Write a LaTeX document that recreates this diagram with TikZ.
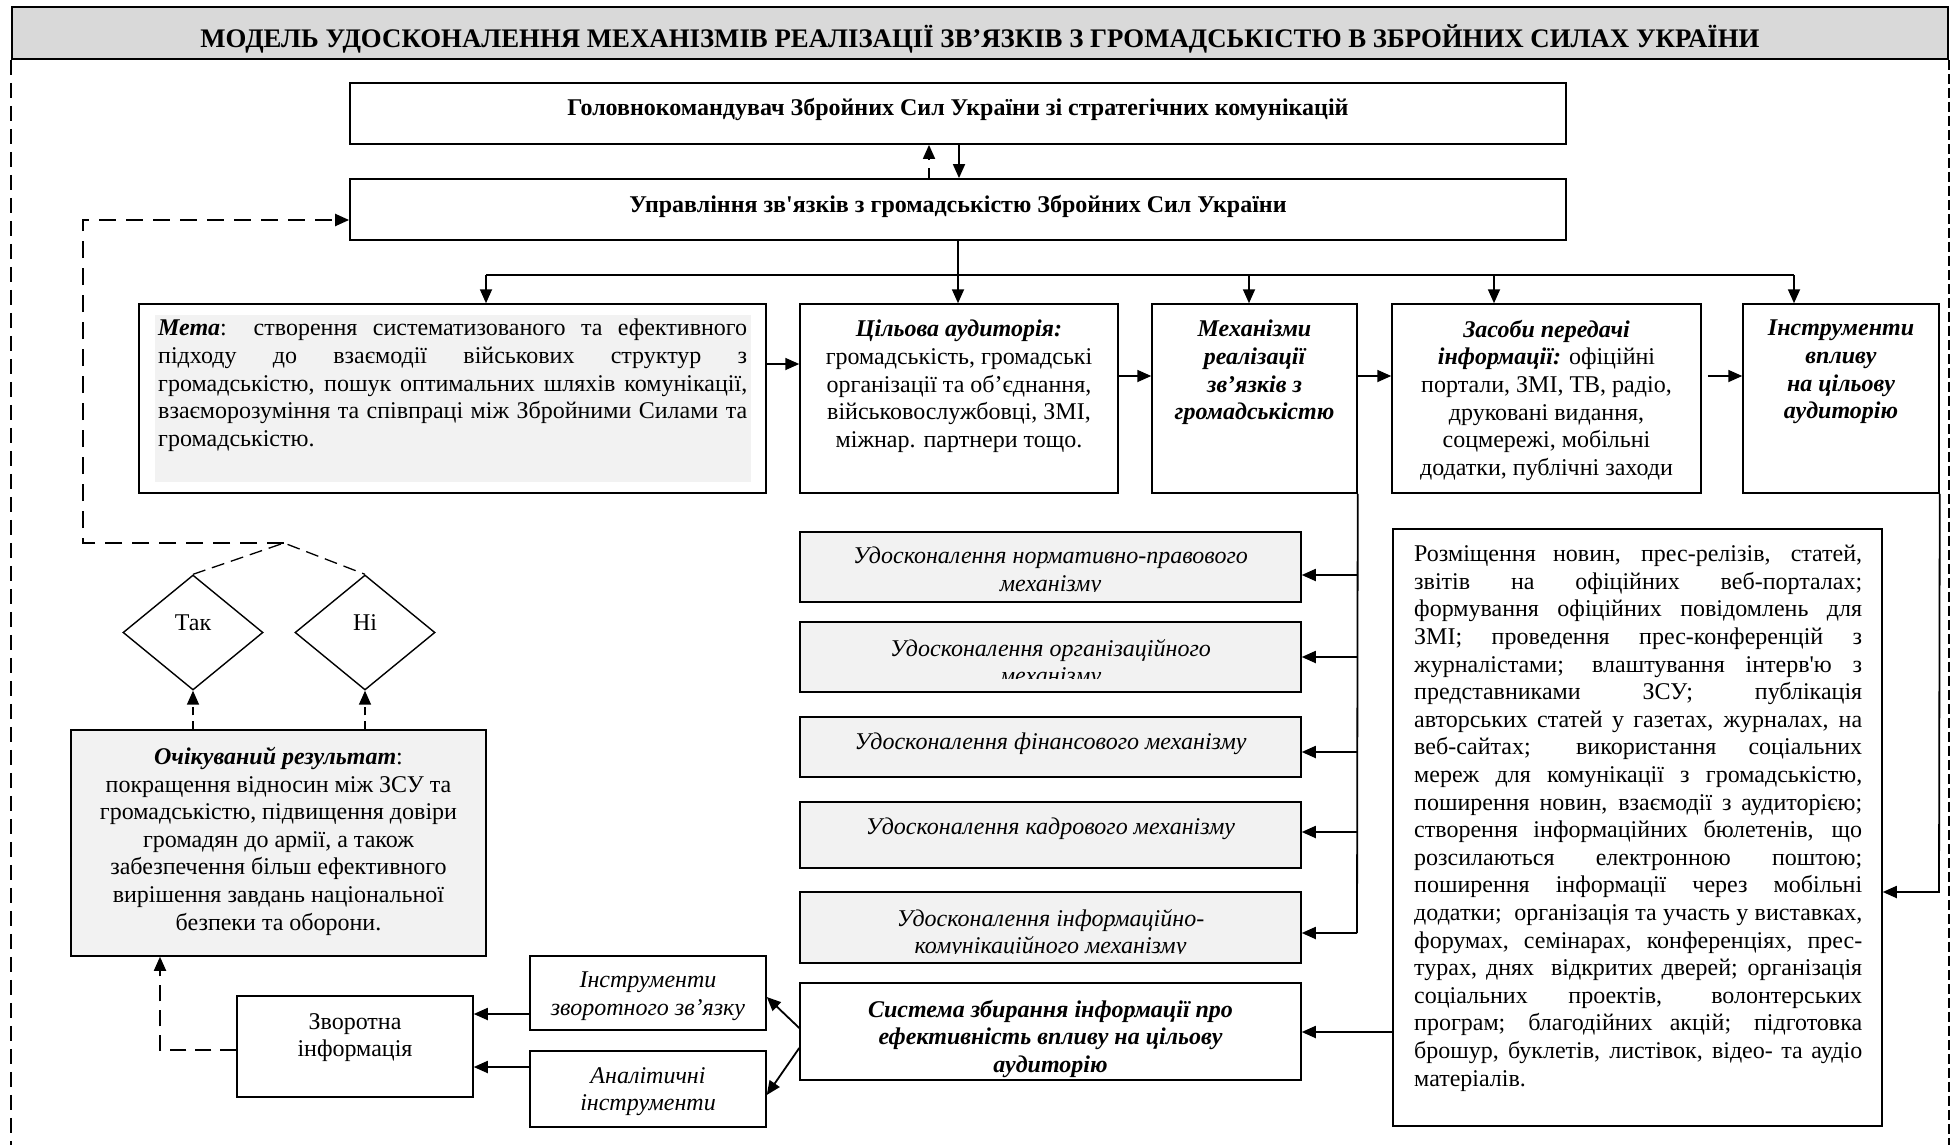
\documentclass[tikz,border=0pt]{standalone}
\usepackage{fontspec}
\setmainfont{Liberation Serif}
\newfontfamily\tnr{Liberation Serif}
\usetikzlibrary{arrows.meta,shapes.geometric}
\definecolor{titlegray}{HTML}{D9D9D9}
\definecolor{lightfill}{HTML}{F2F2F2}
\newcommand\jl[2][448pt]{\makebox[#1][s]{#2}}
\newcommand\bi[1]{\textbf{\textit{#1}}}
\begin{document}
\begin{tikzpicture}[x=1pt,y=-1pt,
  every node/.style={font=\tnr\fontsize{24}{27.6}\selectfont, inner sep=0pt},
  box/.style={draw, line width=1.5pt, rectangle},
  mbox/.style={draw, line width=1.5pt, rectangle, fill=lightfill, minimum width=501pt},
  txt/.style={align=center, anchor=north},
  bold/.style={font=\tnr\bfseries\fontsize{24}{27.6}\selectfont},
  bit/.style={font=\tnr\bfseries\itshape\fontsize{24}{27.6}\selectfont},
  it/.style={font=\tnr\itshape\fontsize{24}{27.6}\selectfont},
  tip/.style={-{Triangle[length=14pt,width=12pt]}},
  arr/.style={line width=1.8pt, tip},
  ln/.style={line width=1.8pt},
  farr/.style={line width=2.2pt, dash pattern=on 17pt off 10pt, tip},
  ddash/.style={line width=1.3pt, dash pattern=on 13pt off 7pt},
  rarr/.style={line width=1.6pt, dash pattern=on 8pt off 6pt, tip},
  frameL/.style={line width=1.5pt, dash pattern=on 15pt off 8pt},
  frameR/.style={line width=1.5pt, dash pattern=on 10pt off 4pt},
  dia/.style={draw, diamond, line width=1.4pt, minimum width=140pt, minimum height=115pt}
]
\useasboundingbox (0,0) rectangle (1952,1145);
\fill[white] (0,0) rectangle (1952,1145);

% title
\node[box, fill=titlegray, line width=1.8pt, minimum width=1936pt, minimum height=52pt] (title) at (980,33) {};
\node[font=\tnr\bfseries\fontsize{26.8}{30}\selectfont, anchor=north] (titletx) at (980,24) {МОДЕЛЬ УДОСКОНАЛЕННЯ МЕХАНІЗМІВ РЕАЛІЗАЦІЇ ЗВ’ЯЗКІВ З ГРОМАДСЬКІСТЮ В ЗБРОЙНИХ СИЛАХ УКРАЇНИ};
\coordinate (bot) at (0,1145);
\draw[frameL] (title.south west) -- (title.south west |- bot);
\draw[frameR] (title.south east) -- (title.south east |- bot);

% top boxes
\node[box, line width=1.8pt, minimum width=1216pt, minimum height=61pt] (b1) at (958,113.5) {};
\node[bold, anchor=north] (b1tx) at (958,98) {Головнокомандувач Збройних Сил України зі стратегічних комунікацій};
\node[box, line width=1.8pt, minimum width=1216pt, minimum height=61pt] (b2) at (958,209.5) {};
\node[bold, anchor=north] (b2tx) at (958,195) {Управління зв'язків з громадськістю Збройних Сил України};
\draw[arr] ([xshift=1pt]b1.south) -- ([xshift=1pt]b2.north);
\draw[arr, dash pattern=on 10pt off 8pt] ([xshift=-29pt]b2.north) -- ([xshift=-29pt]b1.south);

% row of boxes
\node[box, minimum width=627pt, minimum height=189pt] (meta) at (452.5,398.5) {};
\fill[lightfill] (155,315) rectangle (751,482);
\node[anchor=north west, align=left] (metatx) at (158,319) {%
\jl[589pt]{\bi{Мета}: створення систематизованого та ефективного}\\
\jl[589pt]{підходу до взаємодії військових структур з}\\
\jl[589pt]{громадськістю, пошук оптимальних шляхів комунікації,}\\
\jl[589pt]{взаєморозуміння та співпраці між Збройними Силами та}\\
громадськістю.};

\node[box, minimum width=318pt, minimum height=189pt] (aud) at (959,398.5) {};
\node[txt] (audtx) at (959,320) {\bi{Цільова аудиторія:}\\ громадськість, громадські\\ організації та об’єднання,\\ військовослужбовці, ЗМІ,\\ міжнар. партнери тощо.};

\node[box, minimum width=205pt, minimum height=189pt] (mech) at (1254.5,398.5) {};
\node[txt, bit] (mechtx) at (1254.5,320) {Механізми\\ реалізації\\ зв’язків з\\ громадськістю};

\node[box, minimum width=309pt, minimum height=189pt] (means) at (1546.5,398.5) {};
\node[txt] (meanstx) at (1546.5,320) {\bi{Засоби передачі}\\ \bi{інформації:} офіційні\\ портали, ЗМІ, ТВ, радіо,\\ друковані видання,\\ соцмережі, мобільні\\ додатки, публічні заходи};

\node[box, minimum width=196pt, minimum height=189pt] (tools) at (1841,398.5) {};
\node[txt, bit] (toolstx) at (1841,320) {Інструменти\\ впливу\\ на цільову\\ аудиторію};

% distribution
\coordinate (h1) at (486,275);
\coordinate (h3) at (1249,275);
\coordinate (h4) at (1494,275);
\coordinate (h5) at (1794,275);
\draw[ln] (b2.south) -- (b2.south |- h1);
\draw[ln] (h1) -- (h5);
\draw[arr] (h1) -- (h1 |- meta.north);
\draw[arr] (b2.south |- h1) -- (b2.south |- aud.north);
\draw[arr] (h3) -- (h3 |- mech.north);
\draw[arr] (h4) -- (h4 |- means.north);
\draw[arr] (h5) -- (h5 |- tools.north);

\coordinate (r1) at (0,364);
\coordinate (r2) at (0,376);
\draw[arr] (meta.east |- r1) -- (aud.west |- r1);
\draw[arr] (aud.east |- r2) -- (mech.west |- r2);
\draw[arr] (mech.east |- r2) -- (means.west |- r2);
\draw[arr] ([xshift=6pt]means.east |- r2) -- (tools.west |- r2);

% mechanisms
\node[mbox, minimum height=70pt] (m1) at (1050.5,567) {};
\node[mbox, minimum height=70pt] (m2) at (1050.5,657) {};
\node[mbox, minimum height=60pt] (m3) at (1050.5,747) {};
\node[mbox, minimum height=66pt] (m4) at (1050.5,835) {};
\node[mbox, minimum height=71pt] (m5) at (1050.5,927.5) {};
\begin{scope}
\clip (800,532) rectangle (1301,591);
\node[txt, it] (m1tx) at (1050.5,547) {Удосконалення нормативно-правового\\ механізму};
\end{scope}
\begin{scope}
\clip (800,622) rectangle (1301,678);
\node[txt, it] (m2tx) at (1050.5,639) {Удосконалення організаційного\\ механізму};
\end{scope}
\node[txt, it] (m3tx) at (1050.5,733) {Удосконалення фінансового механізму};
\node[txt, it] (m4tx) at (1050.5,818) {Удосконалення кадрового механізму};
\begin{scope}
\clip (800,892) rectangle (1301,953);
\node[txt, it] (m5tx) at (1050.5,909) {Удосконалення інформаційно-\\ комунікаційного механізму};
\end{scope}

\coordinate (v1) at (1357,575);
\coordinate (v2) at (1357,657);
\coordinate (v3) at (1357,752);
\coordinate (v4) at (1357,832);
\coordinate (v5) at (1357,933);
\draw[ln] (mech.south east) -- (v5);
\draw[arr] (v1) -- (v1 -| m1.east);
\draw[arr] (v2) -- (v2 -| m2.east);
\draw[arr] (v3) -- (v3 -| m3.east);
\draw[arr] (v4) -- (v4 -| m4.east);
\draw[arr] (v5) -- (v5 -| m5.east);

% right text
\node[box, minimum width=489pt, minimum height=597pt] (rtext) at (1637.5,827.5) {};
\node[anchor=north west, align=left] (rtexttx) at (1414,545) {%
\jl{Розміщення новин, прес-релізів, статей,}\\
\jl{звітів на офіційних веб-порталах;}\\
\jl{формування офіційних повідомлень для}\\
\jl{ЗМІ; проведення прес-конференцій з}\\
\jl{журналістами; влаштування інтерв'ю з}\\
\jl{представниками ЗСУ; публікація}\\
\jl{авторських статей у газетах, журналах, на}\\
\jl{веб-сайтах; використання соціальних}\\
\jl{мереж для комунікації з громадськістю,}\\
\jl{поширення новин, взаємодії з аудиторією;}\\
\jl{створення інформаційних бюлетенів, що}\\
\jl{розсилаються електронною поштою;}\\
\jl{поширення інформації через мобільні}\\
\jl{додатки;\ \ організація та участь у виставках,}\\
\jl{форумах, семінарах, конференціях, прес-}\\
\jl{турах, днях\ \ відкритих дверей; організація}\\
\jl{соціальних проектів, волонтерських}\\
\jl{програм; благодійних акцій; підготовка}\\
\jl{брошур, буклетів, листівок, відео- та аудіо}\\
матеріалів.};
\coordinate (t1) at (1939,892);
\draw[arr] (tools.south east) -- (t1) -- (t1 -| rtext.east);

% system
\node[box, minimum width=501pt, minimum height=97pt] (sys) at (1050.5,1031.5) {};
\node[txt, bit] (systx) at (1050.5,1000) {Система збирання інформації про\\ ефективність впливу на цільову\\ аудиторію};
\coordinate (s1) at (0,1032);
\draw[arr] (rtext.west |- s1) -- (sys.east |- s1);

% feedback tools
\node[box, minimum width=236pt, minimum height=74pt] (fbt) at (648,993) {};
\node[txt, it] (fbttx) at (648,972) {Інструменти\\ зворотного зв’язку};
\node[box, minimum width=236pt, minimum height=76pt] (ana) at (648,1089) {};
\node[txt, it] (anatx) at (648,1067) {Аналітичні\\ інструменти};
\draw[arr] ([yshift=3.5pt]sys.west) -- ([yshift=-4pt]fbt.east);
\draw[arr] ([yshift=-16.5pt]sys.west) -- ([yshift=-6pt]ana.east);

\node[box, minimum width=236pt, minimum height=101pt] (fb) at (355,1046.5) {};
\node[txt] (fbtx) at (355,1013) {Зворотна\\ інформація};
\coordinate (f1) at (0,1014);
\coordinate (f2) at (0,1067);
\draw[arr] (fbt.west |- f1) -- (fb.east |- f1);
\draw[arr] (ana.west |- f2) -- (fb.east |- f2);

% expected result
\node[box, fill=lightfill, minimum width=415pt, minimum height=226pt] (result) at (278.5,843) {};
\node[txt] (resulttx) at (278.5,747) {\bi{Очікуваний результат}:\\ покращення відносин між ЗСУ та\\ громадськістю, підвищення довіри\\ громадян до армії, а також\\ забезпечення більш ефективного\\ вирішення завдань національної\\ безпеки та оборони.};
\coordinate (d1) at (160,1050);
\draw[farr, line width=1.8pt, dash pattern=on 16pt off 9pt] (fb.west |- d1) -- (d1) -- (d1 |- result.south);

% decisions
\node[dia] (yes) at (193,632.5) {};
\node (yestx) at (193,623) {Так};
\node[dia] (no) at (365,632.5) {};
\node (notx) at (365,623) {Ні};
\draw[rarr] (result.north -| yes.south) -- (yes.south);
\draw[rarr] (result.north -| no.south) -- (no.south);
\coordinate (dj) at (284,543);
\coordinate (fa) at (83,543);
\coordinate (fc) at (83,220);
\draw[ddash] (yes.north) -- (dj) -- (no.north);
\draw[farr] (dj) -- (fa) -- (fc) -- (fc -| b2.west);
\end{tikzpicture}
\end{document}
